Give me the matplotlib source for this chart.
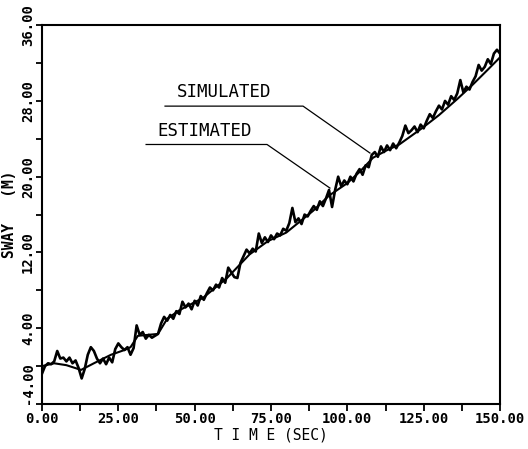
import numpy as np
import matplotlib
matplotlib.use("Agg")
import matplotlib.pyplot as plt
from matplotlib.ticker import MultipleLocator, FormatStrFormatter

# simulated sway, one sample per second, t = 0..150
sim_t = list(range(0, 151))
sim_v = [-0.8, 0.0, 0.3, 0.2, 0.5, 1.6, 0.8, 0.9, 0.5, 0.9,
         0.3, 0.6, -0.2, -1.3, -0.3, 1.2, 2.0, 1.6, 0.8, 0.3,
         0.8, 0.2, 0.9, 0.4, 1.8, 2.4, 2.0, 1.7, 2.0, 1.2,
         1.9, 4.3, 3.3, 3.6, 2.9, 3.3, 3.0, 3.2, 3.4, 4.5,
         5.2, 4.8, 5.4, 5.0, 5.8, 5.5, 6.8, 6.2, 6.6, 6.0,
         6.9, 6.4, 7.4, 7.0, 7.7, 8.3, 8.0, 8.6, 8.3, 9.3,
         8.8, 10.4, 9.9, 9.4, 9.3, 10.9, 11.6, 12.3, 11.9, 12.4,
         12.1, 14.0, 13.0, 13.6, 13.1, 13.8, 13.4, 14.0, 13.8, 14.5,
         14.3, 15.1, 16.7, 15.2, 15.6, 15.0, 16.0, 15.8, 16.4, 16.9,
         16.5, 17.4, 16.9, 17.7, 18.6, 16.8, 18.6, 20.0, 19.0, 19.6,
         19.2, 20.0, 19.5, 20.3, 20.8, 20.2, 21.2, 21.0, 22.3, 22.6,
         22.1, 23.2, 22.6, 23.3, 22.8, 23.5, 23.0, 23.6, 24.3, 25.4,
         24.6, 24.9, 25.3, 24.7, 25.5, 25.1, 25.9, 26.6, 26.2, 26.9,
         27.5, 27.1, 28.0, 27.6, 28.5, 28.1, 28.8, 30.2, 28.9, 29.5,
         29.2, 30.0, 30.6, 31.8, 31.2, 31.6, 32.4, 31.9, 33.0, 33.4,
         33.0]

# estimated sway (smooth)
est_t = [0, 4, 8, 12.8, 17, 22.6, 27, 29, 31.4, 38, 41, 45, 52.7, 60.6,
         68, 74, 80, 88.8, 94, 99.9, 104, 108.4, 113, 117, 124.8, 130,
         136, 141, 146, 150]
est_v = [0.0, 0.3, 0.1, -0.4, 0.3, 1.2, 1.7, 2.0, 3.2, 3.4, 5.0, 5.9,
         7.2, 9.3, 11.8, 13.2, 14.1, 16.4, 18.0, 19.3, 20.5, 22.0, 22.8,
         23.4, 25.2, 26.5, 28.2, 29.7, 31.3, 32.6]

FONT = "DejaVu Sans Mono"

fig = plt.figure(figsize=(5.28, 4.49), dpi=100)
ax = fig.add_axes([0.0795, 0.1002, 0.8675, 0.8438])

ax.plot(sim_t, sim_v, color="black", lw=1.9)
ax.plot(est_t, est_v, color="black", lw=1.5)

# labels with leader lines
ax.text(59.6, 28.0, "SIMULATED", fontsize=12.5, family=FONT, ha="center",
        va="bottom")
ax.plot([40.3, 85.5, 107.4], [27.45, 27.45, 22.5], color="black", lw=0.9)
ax.text(53.4, 23.9, "ESTIMATED", fontsize=12.5, family=FONT, ha="center",
        va="bottom")
ax.plot([34.1, 73.7, 94.3], [23.4, 23.4, 18.8], color="black", lw=0.9)

ax.set_xlim(0, 150)
ax.set_ylim(-4, 36)
ax.xaxis.set_major_locator(MultipleLocator(25))
ax.xaxis.set_minor_locator(MultipleLocator(12.5))
ax.yaxis.set_minor_locator(MultipleLocator(4))
ax.set_yticks(np.arange(-4, 37, 8))
ax.xaxis.set_major_formatter(FormatStrFormatter("%.2f"))
ax.yaxis.set_major_formatter(FormatStrFormatter("%.2f"))

ax.tick_params(axis="both", which="both", direction="out", width=1.3,
               colors="black")
ax.tick_params(axis="x", which="both", length=5, pad=1)
ax.tick_params(axis="y", which="both", length=4, pad=1)
for lab in ax.get_xticklabels():
    lab.set_family(FONT)
    lab.set_fontweight("bold")
    lab.set_fontsize(10)
yl = ax.get_yticklabels()
for lab in yl:
    lab.set_family(FONT)
    lab.set_fontweight("bold")
    lab.set_fontsize(10)
    lab.set_rotation(90)
    lab.set_va("center")
yl[0].set_va("bottom")

for s in ax.spines.values():
    s.set_linewidth(1.5)

ax.set_xlabel("T I M E (SEC)", fontsize=10.5, family=FONT, labelpad=1)
ax.set_ylabel("SWAY   (M)", fontsize=10.5, family=FONT, fontweight="bold",
              labelpad=3)

fig.savefig("out.png", dpi=100, facecolor="white")
